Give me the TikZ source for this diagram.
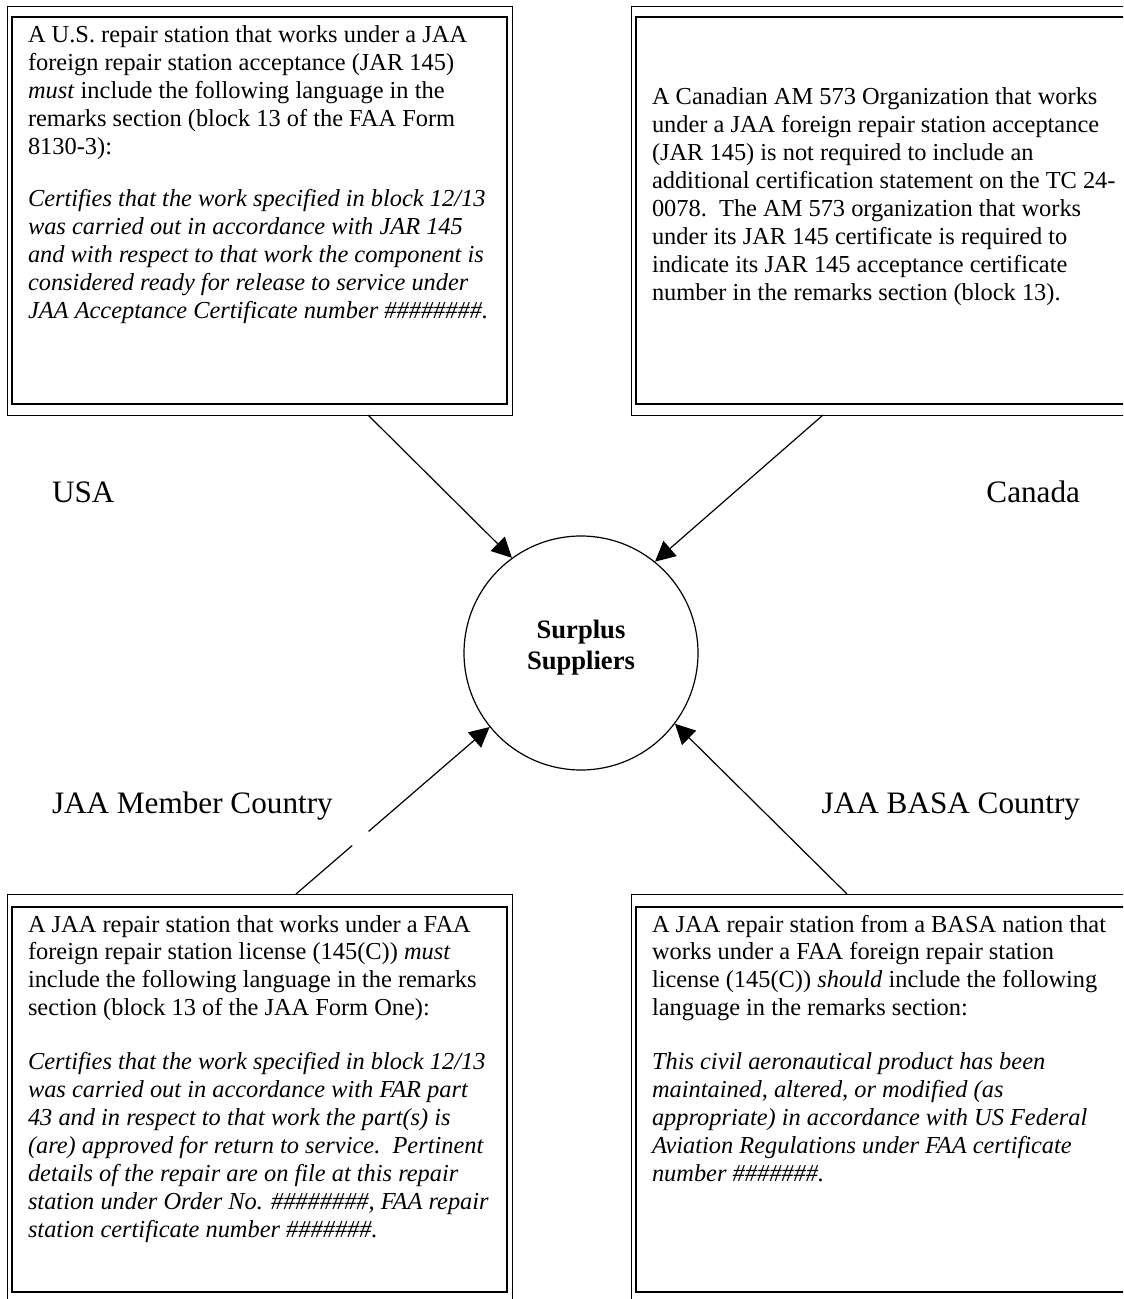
\documentclass[tikz,border=0pt]{standalone}
\usepackage{fontspec}
\setmainfont{Liberation Serif}
\usetikzlibrary{arrows.meta}
\tikzset{
  outerbox/.style={draw, line width=0.5pt, rectangle, inner sep=0pt, outer sep=0pt, anchor=north west},
  innerbox/.style={draw, line width=1pt, rectangle, inner sep=0pt, outer sep=0pt, anchor=north west},
  boxtext/.style={inner sep=0pt, outer sep=0pt, anchor=north west, align=left,
    font=\fontsize{12.2pt}{13.95pt}\selectfont},
  country/.style={inner sep=0pt, outer sep=0pt, font=\fontsize{15.6pt}{18pt}\selectfont},
  conn/.style={line width=0.6pt, draw=black},
  arr/.style={conn, -{Triangle[length=10pt,width=10pt]}},
}
\newcommand{\fst}{\rule{0pt}{10pt}}
\begin{document}
\begin{tikzpicture}[x=0.5pt, y=-0.5pt]
\useasboundingbox (0,0) rectangle (1123,1299);
\clip (0,0) rectangle (1123,1299);
\fill[white] (0,0) rectangle (1123,1299);

% boxes
\node[outerbox, minimum width=252.5pt, minimum height=204pt] (tlo) at (7,7) {};
\node[innerbox, minimum width=247.5pt, minimum height=193.5pt] (tli) at (12,17) {};
\node[outerbox, minimum width=254.5pt, minimum height=204pt] (tro) at (631,7) {};
\node[innerbox, minimum width=249.5pt, minimum height=193.5pt] (tri) at (636,17) {};
\node[outerbox, minimum width=252.5pt, minimum height=213pt] (blo) at (7,894) {};
\node[innerbox, minimum width=247.5pt, minimum height=192.5pt] (bli) at (12,907) {};
\node[outerbox, minimum width=254.5pt, minimum height=213pt] (bro) at (631,894) {};
\node[innerbox, minimum width=249.5pt, minimum height=192.5pt] (bri) at (636,907) {};

% box texts
\node[boxtext] (tlt) at (28,23) {\fst A U.S. repair station that works under a JAA\\
foreign repair station acceptance (JAR 145)\\
\textit{must} include the following language in the\\
remarks section (block 13 of the FAA Form\\
8130-3):\\[12pt]
\textit{Certifies that the work specified in block 12/13}\\
\textit{was carried out in accordance with JAR 145}\\
\textit{and with respect to that work the component is}\\
\textit{considered ready for release to service under}\\
\textit{JAA Acceptance Certificate number \#\#\#\#\#\#\#\#.}};

\node[boxtext] (trt) at (652,85) {\fst A Canadian AM 573 Organization that works\\
under a JAA foreign repair station acceptance\\
(JAR 145) is not required to include an\\
additional certification statement on the TC 24-\\
0078.\ \ The AM 573 organization that works\\
under its JAR 145 certificate is required to\\
indicate its JAR 145 acceptance certificate\\
number in the remarks section (block 13).};

\node[boxtext] (blt) at (28,912) {\fst A JAA repair station that works under a FAA\\
foreign repair station license (145(C)) \textit{must}\\
include the following language in the remarks\\
section (block 13 of the JAA Form One):\\[13pt]
\textit{Certifies that the work specified in block 12/13}\\
\textit{was carried out in accordance with FAR part}\\
\textit{43 and in respect to that work the part(s) is}\\
\textit{(are) approved for return to service.\ \ Pertinent}\\
\textit{details of the repair are on file at this repair}\\
\textit{station under Order No. \#\#\#\#\#\#\#\#, FAA repair}\\
\textit{station certificate number \#\#\#\#\#\#\#.}};

\node[boxtext] (brt) at (652,912) {\fst A JAA repair station from a BASA nation that\\
works under a FAA foreign repair station\\
license (145(C)) \textit{should} include the following\\
language in the remarks section:\\[13pt]
\textit{This civil aeronautical product has been}\\
\textit{maintained, altered, or modified (as}\\
\textit{appropriate) in accordance with US Federal}\\
\textit{Aviation Regulations under FAA certificate}\\
\textit{number \#\#\#\#\#\#\#.}};

% country labels
\node[country, anchor=base west] (usa) at (52,502) {USA};
\node[country, anchor=base east] (can) at (1080,502) {Canada};
\node[country, anchor=base west] (jaa) at (52,813) {JAA Member Country};
\node[country, anchor=base east] (basa) at (1080,813) {JAA BASA Country};

% central circle
\node[draw, circle, line width=0.6pt, minimum size=117pt, inner sep=0pt] (c) at (581,653) {};
\node[inner sep=0pt, anchor=north, align=center,
      font=\fontsize{13.3pt}{15.5pt}\selectfont\bfseries] (ct) at (581,618) {\rule{0pt}{10pt}Surplus\\Suppliers};

% connectors
\draw[arr] (tlo.south west) ++(361,0) -- (c.126);
\draw[arr] (tro.south west) ++(192,0) -- (c.51);
\path (blo.north west) ++(289,0) coordinate (bls);
\path (bls) -- coordinate[pos=0.29] (g1) coordinate[pos=0.375] (g2) (c.219);
\draw[conn] (bls) -- (g1);
\draw[arr] (g2) -- (c.219);
\draw[arr] (bro.north west) ++(216,0) -- (c.323);
\end{tikzpicture}
\end{document}
